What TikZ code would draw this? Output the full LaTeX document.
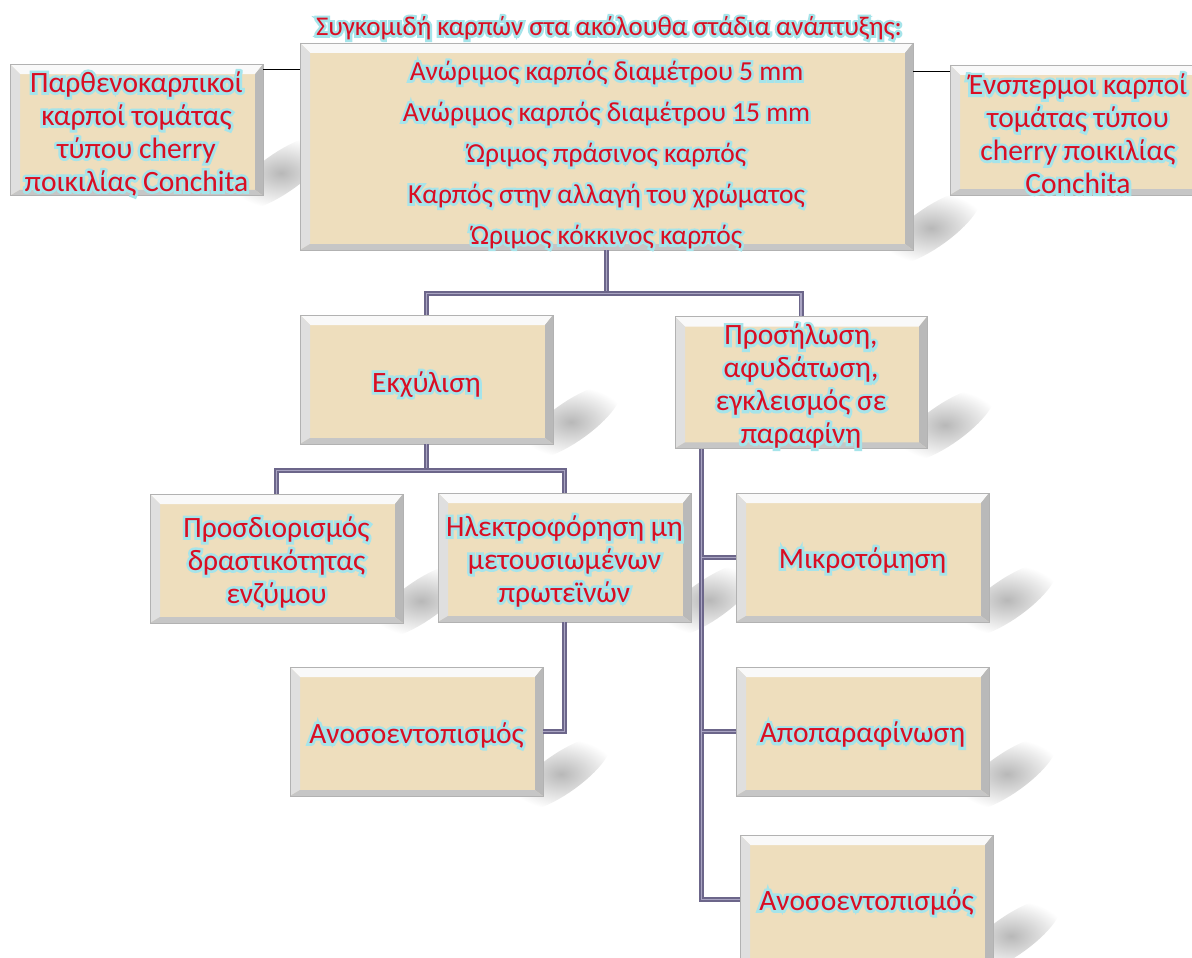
\documentclass[tikz,border=0pt]{standalone}
\usepackage{fontspec}
\setmainfont{Carlito}
\newfontfamily\glowfont[FakeBold=18]{Carlito}
\usetikzlibrary{calc,fadings}
\definecolor{boxfill}{RGB}{238,222,189}
\definecolor{txtred}{RGB}{218,14,34}
\definecolor{glowc}{RGB}{165,228,234}
\definecolor{connc}{RGB}{108,102,138}
\definecolor{connl}{RGB}{170,165,195}
\tikzfading[name=fuzz, inner color=transparent!72, outer color=transparent!100]
\newcommand\dn[1]{\rule{0pt}{#1pt}}
\newcommand\gl[1]{\rlap{\glowfont\color{glowc}#1}#1}
\begin{document}
\begin{tikzpicture}[x=1pt,y=-1pt,
  bev/.style={rectangle, draw=gray!60, line width=0.7pt, fill=boxfill, inner sep=0pt,
    align=center, text=txtred, font=\fontsize{29.5}{33}\selectfont,
    minimum width=253pt, minimum height=129pt,
    path picture={
      \path (path picture bounding box.north west) coordinate (ppnw)
            (path picture bounding box.north east) coordinate (ppne)
            (path picture bounding box.south west) coordinate (ppsw)
            (path picture bounding box.south east) coordinate (ppse);
      \fill[gray!5] (ppnw) -- (ppne) -- ($(ppne)+(-8pt,-10pt)$) -- ($(ppnw)+(10pt,-10pt)$) -- cycle;
      \fill[gray!25] (ppnw) -- ($(ppnw)+(10pt,-10pt)$) -- ($(ppsw)+(10pt,6pt)$) -- (ppsw) -- cycle;
      \fill[gray!55] (ppne) -- ($(ppne)+(-8pt,-10pt)$) -- ($(ppse)+(-8pt,6pt)$) -- (ppse) -- cycle;
      \fill[gray!45] (ppsw) -- ($(ppsw)+(10pt,6pt)$) -- ($(ppse)+(-8pt,6pt)$) -- (ppse) -- cycle;
    }},
  conn/.style={draw=connc, line width=1.7pt, double=connl, double distance=1.6pt, line join=miter},
  sidec/.style={draw=black, line width=1.2pt},
  shad/.style={fill=black, path fading=fuzz}
]
\useasboundingbox (0,0) rectangle (1192,958);
\fill[white] (0,0) rectangle (1192,958);

% soft shadows
\foreach \xa/\ya in {913/250, 263/195, 553/444, 927/447, 403/623, 691/622, 543/796, 989/622, 989/796, 993/958}{
  \fill[shad, rotate around={35:(\xa+18,\ya-22)}] (\xa+18,\ya-22) ellipse (60pt and 20pt);
}

% title
\node[text=txtred, font=\fontsize{27}{30}\selectfont] (title) at (609,28)
  {\gl{Συγκομιδή καρπών στα ακόλουθα στάδια ανάπτυξης:}};

% boxes
\node[bev, minimum width=613pt, minimum height=207pt, font=\fontsize{27.5}{41}\selectfont] (main) at (606.5,146.5)
  {\dn{36}\gl{Ανώριμος καρπός διαμέτρου 5 mm}\\ \gl{Ανώριμος καρπός διαμέτρου 15 mm}\\ \gl{Ώριμος πράσινος καρπός}\\ \gl{Καρπός στην αλλαγή του χρώματος}\\ \gl{Ώριμος κόκκινος καρπός}};
\node[bev, minimum height=130pt] (left) at (136.5,130)
  {\dn{28}\gl{Παρθενοκαρπικοί}\\ \gl{καρποί τομάτας}\\ \gl{τύπου cherry}\\ \gl{ποικιλίας Conchita}};
\node[bev, minimum width=256pt, minimum height=130pt] (right) at (1078,130)
  {\dn{28}\gl{Ένσπερμοι καρποί}\\ \gl{τομάτας τύπου}\\ \gl{cherry ποικιλίας}\\ \gl{Conchita}};
\node[bev] (ekx) at (426.5,379.5) {\dn{30}\gl{Εκχύλιση}};
\node[bev, minimum width=252pt] (pros) at (801,382.5)
  {\dn{28}\gl{Προσήλωση,}\\ \gl{αφυδάτωση,}\\ \gl{εγκλεισμός σε}\\ \gl{παραφίνη}};
\node[bev] (prosd) at (276.5,558.5) {\dn{28}\gl{Προσδιορισμός}\\ \gl{δραστικότητας}\\ \gl{ενζύμου}};
\node[bev] (ilek) at (564.5,557.5) {\dn{28}\gl{Ηλεκτροφόρηση μη}\\ \gl{μετουσιωμένων}\\ \gl{πρωτεϊνών}};
\node[bev] (anosL) at (416.5,731.5) {\dn{28}\gl{Ανοσοεντοπισμός}};
\node[bev] (mikr) at (862.5,557.5) {\dn{26}\gl{Μικροτόμηση}};
\node[bev] (apop) at (862.5,731.5) {\dn{27}\gl{Αποπαραφίνωση}};
\node[bev] (anosR) at (866.5,899.5) {\dn{26}\gl{Ανοσοεντοπισμός}};

% side connectors
\coordinate (la) at ([yshift=-6pt]left.north east);
\draw[sidec] (la) -- (la -| main.west);
\coordinate (ra) at ([yshift=-7pt]right.north west);
\draw[sidec] (ra) -- (ra -| main.east);

% tree connectors
\coordinate (j1) at ([yshift=-43pt]main.south);
\draw[conn] (main.south) -- (j1);
\draw[conn] (ekx.north) |- (j1) -| (pros.north);
\coordinate (j2) at ([yshift=-26pt]ekx.south);
\draw[conn] (ekx.south) -- (j2);
\draw[conn] (prosd.north) |- (j2) -| (ilek.north);
\draw[conn] (ilek.south) |- (anosL.east);
\coordinate (pv) at ([xshift=27pt]pros.south west);
\draw[conn] (pv) |- (anosR.west);
\draw[conn] (pv |- mikr.west) -- (mikr.west);
\draw[conn] (pv |- apop.west) -- (apop.west);
\end{tikzpicture}
\end{document}
